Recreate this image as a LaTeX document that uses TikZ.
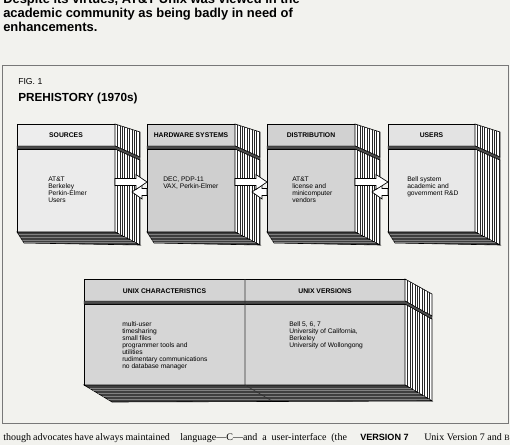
\documentclass[tikz,border=0pt]{standalone}
\usepackage{fontspec}
\setmainfont{Liberation Sans}
\newfontfamily\bodyserif{Liberation Serif}
\usepackage{tikz}
\usetikzlibrary{positioning}
\definecolor{paper}{RGB}{242, 242, 238}
\definecolor{framegray}{RGB}{120, 120, 120}
\definecolor{baseshade}{RGB}{62, 62, 62}
\tikzset{
  headline/.style={anchor=base west, inner sep=0pt, align=left, font=\fontsize{9.7}{10.5}\selectfont\bfseries},
  figlabel/.style={anchor=base west, inner sep=0pt, font=\fontsize{6.5}{7}\selectfont},
  figtitle/.style={anchor=base west, inner sep=0pt, font=\fontsize{8.8}{10}\selectfont\bfseries},
  slabface/.style={draw=black, line width=0.45pt},
  slabside/.style={fill=white, draw=black, line width=0.45pt},
  slabjoint/.style={fill=black!70, draw=black, line width=0.3pt},
  slabbase/.style={fill=baseshade, draw=black, line width=0.45pt},
  hatchline/.style={draw=black!85, line width=0.35pt},
  baseruling/.style={draw=black!50, line width=0.2pt},
  boxhead/.style={anchor=base, inner sep=0pt, font=\fontsize{5.1}{6}\selectfont\bfseries},
  boxtext/.style={anchor=base west, inner sep=0pt, align=left, font=\fontsize{5}{5.25}\selectfont},
  flowarrow/.style={fill=white, draw=black, line width=0.5pt, line join=miter},
  bodycol/.style={anchor=base west, inner sep=0pt, font=\bodyserif\fontsize{7.5}{9}\selectfont},
  sidehead/.style={anchor=base west, inner sep=0pt, font=\fontsize{6.8}{8}\selectfont\bfseries}
}

\begin{document}
\begin{tikzpicture}[x=0.75pt, y=-0.75pt]
    % Page
    \path[use as bounding box, fill=paper] (0,0) rectangle (510,445);

    % Headline (first line runs off the top of the page; placed by its last baseline)
    \node[headline] (head) at (3,31.5) {Despite its virtues, AT\&T Unix was viewed in the\\academic community as being badly in need of\\enhancements.};

    % Figure frame and title
    \draw[framegray, line width=0.5pt] (2,65) rectangle (508,423);
    \node[figlabel] (fig) at (18,85) {FIG. 1};
    \node[figtitle] (title) at (18,102) {PREHISTORY (1970s)};

    % Top slabs: front left/right, header shade, body shade, name, label, text x, last baseline, text
    \foreach \xa/\xb/\hd/\bd/\nm/\lbl/\tx/\ty/\txt in {
        17/115/7/8/src/SOURCES/48/203/{AT\&T\\Berkeley\\Perkin-Elmer\\Users},
        147/235/17/19/hw/HARDWARE SYSTEMS/163/189/{DEC, PDP-11\\VAX, Perkin-Elmer},
        267/355/18/17/dist/DISTRIBUTION/292/203/{AT\&T\\license and\\minicomputer\\vendors},
        388/475/11/9/usr/USERS/407/196/{Bell system\\academic and\\government R\&D}}{
        \draw[slabface, fill=black!\hd] (\xa,124) rectangle (\xb,146);
        \draw[slabface, fill=black!\bd] (\xa,149) rectangle (\xb,232);
        \draw[slabside] (\xb,124) -- (\xb+25,132) -- (\xb+25,157) -- (\xb,146) -- cycle;
        \draw[slabside] (\xb,149) -- (\xb+25,160) -- (\xb+25,245) -- (\xb,232) -- cycle;
        \begin{scope}
            \clip (\xb,124) -- (\xb+25,132) -- (\xb+25,245) -- (\xb,232) -- cycle;
            \foreach \k in {1,...,10}
                \draw[hatchline] ({\xb+\k*2.4},120) -- ({\xb+\k*2.4},250);
        \end{scope}
        \draw[slabjoint] (\xa,146) -- (\xb,146) -- (\xb+25,157) -- (\xb+25,160) -- (\xb,149) -- (\xa,149) -- cycle;
        \draw[slabbase] (\xa,232) -- (\xb,232) -- (\xb+25,245) -- (\xa+7,243) -- cycle;
        \begin{scope}
            \clip (\xa,232) -- (\xb,232) -- (\xb+25,245) -- (\xa+7,243) -- cycle;
            \foreach \k in {1,...,4}
                \draw[baseruling] (\xa,{232+\k*2.6}) -- (\xb+25,{232+\k*2.6});
        \end{scope}
        \node[boxhead] (\nm-head) at ({(\xa+\xb)/2},138) {\lbl};
        \node[boxtext] (\nm-text) at (\tx,\ty) {\txt};
    }

    % Arrows between the top slabs
    \foreach \xb/\xn in {115/147, 235/267, 355/388}{
        \draw[flowarrow] (\xn,188.5) -- (\xb+27,188.5) -- (\xb+27,185) -- (\xb+17,192) -- (\xb+27,199) -- (\xb+27,195.5) -- (\xn,195.5) -- cycle;
        \draw[flowarrow] (\xb,178.5) -- (\xb+21,178.5) -- (\xb+21,174.5) -- (\xn,182) -- (\xb+21,189.5) -- (\xb+21,185.5) -- (\xb,185.5) -- cycle;
    }

    % Bottom slab
    \draw[slabface, fill=black!17] (84,279) rectangle (405,301);
    \draw[slabface, fill=black!16] (84,304) rectangle (405,385);
    \draw[slabside] (405,279) -- (432,294) -- (432,316) -- (405,301) -- cycle;
    \draw[slabside] (405,304) -- (432,319) -- (432,401) -- (405,385) -- cycle;
    \begin{scope}
        \clip (405,279) -- (432,294) -- (432,401) -- (405,385) -- cycle;
        \foreach \k in {1,...,11}
            \draw[hatchline] ({405+\k*2.45},275) -- ({405+\k*2.45},405);
    \end{scope}
    \draw[slabjoint] (84,301) -- (405,301) -- (432,316) -- (432,319) -- (405,304) -- (84,304) -- cycle;
    \draw[slabbase] (84,385) -- (405,385) -- (432,401) -- (112,402) -- cycle;
    \begin{scope}
        \clip (84,385) -- (405,385) -- (432,401) -- (112,402) -- cycle;
        \foreach \k in {1,...,5}
            \draw[baseruling] (84,{385+\k*2.8}) -- (432,{385+\k*2.8});
    \end{scope}
    \draw[slabface, draw=black!80] (245,279) -- (245,385) -- (272,401);
    \node[boxhead] (char-head) at (164.5,293) {UNIX CHARACTERISTICS};
    \node[boxhead] (ver-head) at (325,293) {UNIX VERSIONS};
    \node[boxtext, font=\fontsize{5}{5.3}\selectfont] (char-text) at (122,368.4) {multi-user\\timesharing\\small files\\programmer tools and\\utilities\\rudimentary communications\\no database manager};
    \node[boxtext, font=\fontsize{5}{5.3}\selectfont] (ver-text) at (289,347.2) {Bell 5, 6, 7\\University of California,\\Berkeley\\University of Wollongong};

    % Running text below the figure
    \node[bodycol] (colA) at (3,440) {\makebox[125pt][s]{though advocates have always maintained}};
    \node[bodycol] (colB) at (180,440) {\makebox[125pt][s]{language—C—and a user-interface (the}};
    \node[sidehead] (ver7) at (360,440) {VERSION 7};
    \node[bodycol] (colC) at (424,440) {Unix Version 7 and {\fontsize{6}{7}\selectfont BSD}};
\end{tikzpicture}
\end{document}
